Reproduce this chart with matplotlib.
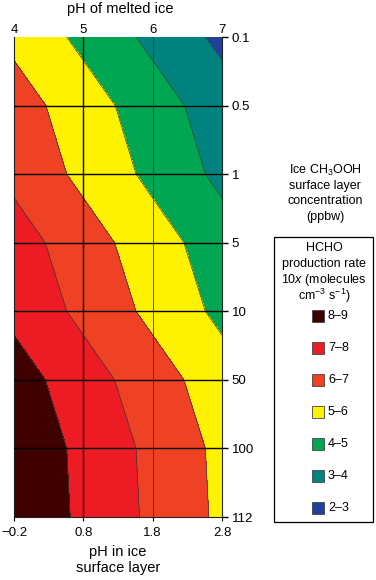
import matplotlib
matplotlib.use("Agg")
import matplotlib.pyplot as plt
from matplotlib.patches import Rectangle
import numpy as np

plt.rcParams['font.family'] = ['Liberation Sans', 'DejaVu Sans']
plt.rcParams['mathtext.fontset'] = 'custom'
plt.rcParams['mathtext.rm'] = 'Liberation Sans'
plt.rcParams['mathtext.it'] = 'Liberation Sans:italic'

# ---- data ----
ph_melted = [4, 5, 6, 7]                       # top axis
ph_surface = ["\u22120.2", "0.8", "1.8", "2.8"]  # bottom axis labels
conc_labels = ["0.1", "0.5", "1", "5", "10", "50", "100", "112"]
# log10 HCHO production rate, rows = concentration, cols = pH of melted ice
rate = [
    [5.76, 4.76, 3.76, 2.76],
    [6.46, 5.46, 4.46, 3.46],
    [6.76, 5.76, 4.76, 3.76],
    [7.45, 6.45, 5.45, 4.45],
    [7.76, 6.76, 5.76, 4.76],
    [8.45, 7.45, 6.45, 5.45],
    [8.76, 7.76, 6.76, 5.76],
    [8.81, 7.81, 6.81, 5.81],
]
levels = [2, 3, 4, 5, 6, 7, 8, 9]
level_colors = ["#21409a", "#00827f", "#00a651", "#fff200", "#ef4123", "#ed1c24", "#3f0000"]
legend_labels = ["8\u20139", "7\u20138", "6\u20137", "5\u20136", "4\u20135", "3\u20134", "2\u20133"]
legend_colors = level_colors[::-1]

W, H = 376, 580
fig = plt.figure(figsize=(W / 100, H / 100), dpi=100)
ax = fig.add_axes([14 / W, 1 - 517 / H, 208 / W, 480 / H])

yi = np.arange(len(conc_labels))
X, Y = np.meshgrid(ph_melted, yi)
Z = np.array(rate)
ax.contourf(X, Y, Z, levels=levels, colors=level_colors)
ax.contour(X, Y, Z, levels=levels[1:-1], colors="#3a3a3a", linewidths=0.5)

ax.set_xlim(4, 7)
ax.set_ylim(len(conc_labels) - 1, 0)

# grid lines
for y in yi[1:-1]:
    ax.axhline(y, color="black", lw=1.0, zorder=5)
ax.axvline(5, color="black", lw=1.0, zorder=5)
ax.axvline(6, color="#333333", lw=0.6, zorder=5)

# bottom axis
ax.set_xticks(ph_melted)
ax.set_xticklabels(ph_surface, fontsize=9.5)
ax.tick_params(axis="x", direction="out", length=3, width=0.8, pad=4)
# right axis
ax.yaxis.tick_right()
ax.set_yticks(yi)
ax.set_yticklabels(conc_labels, fontsize=9.5)
ax.tick_params(axis="y", direction="out", length=4, width=1.0, pad=3)
for s in ["left", "right", "bottom"]:
    ax.spines[s].set_linewidth(0.8)
    ax.spines[s].set_color("#222222")
ax.spines["top"].set_visible(False)

# top axis
top = ax.secondary_xaxis("top")
top.set_xticks(ph_melted)
top.set_xticklabels([str(v) for v in ph_melted], fontsize=9.5)
top.tick_params(length=0, pad=1)
top.spines["top"].set_visible(False)

fig.text(120 / W, 1 - 9 / H, "pH of melted ice", ha="center", va="center", fontsize=10.5)
fig.text(118 / W, 1 - 552 / H, "pH in ice", ha="center", va="center", fontsize=10.5)
fig.text(118 / W, 1 - 568 / H, "surface layer", ha="center", va="center", fontsize=10.5)

# right side title
rt = ["Ice CH$_3$OOH", "surface layer", "concentration", "(ppbw)"]
for i, t in enumerate(rt):
    fig.text(325 / W, 1 - (170 + 15.5 * i) / H, t, ha="center", va="center", fontsize=9)

# legend box
fig.patches.append(Rectangle((274 / W, 1 - 522 / H), 99 / W, 285 / H,
                             transform=fig.transFigure, fill=False, ec="black", lw=0.9))
lt = ["HCHO", "production rate", "10$x$ (molecules", "cm$^{-3}$ s$^{-1}$)"]
for i, t in enumerate(lt):
    fig.text(324 / W, 1 - (248 + 16 * i) / H, t, ha="center", va="center", fontsize=9)
for i, (lab, col) in enumerate(zip(legend_labels, legend_colors)):
    yc = 316 + 32 * i
    fig.patches.append(Rectangle((312 / W, 1 - (yc + 6) / H), 12 / W, 12 / H,
                                 transform=fig.transFigure, fc=col, ec="#444444", lw=0.6))
    fig.text(328 / W, 1 - yc / H, lab, ha="left", va="center", fontsize=9)

fig.savefig("out.png", dpi=100)
